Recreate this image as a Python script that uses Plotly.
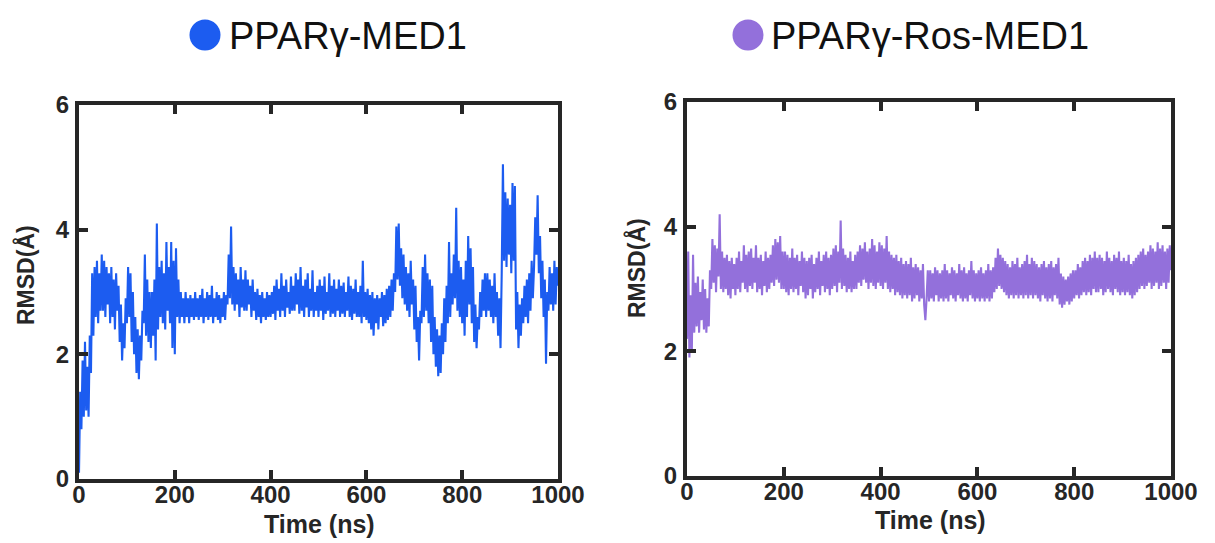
import plotly.graph_objects as go

# ---------------- data ----------------
step_ns = 2.5  # sampling interval of the RMSD traces (ns)

rmsd_ppar_med1 = [
    0.1, 1.4, 0.8, 1.9, 1.0, 2.2, 1.1, 1.8, 1.0, 2.3, 1.7, 3.3, 2.3, 3.4, 2.6, 3.5, 2.5, 3.3, 2.7, 3.6,
    2.7, 3.5, 2.6, 3.4, 2.8, 3.3, 2.5, 3.4, 2.6, 3.2, 2.4, 3.3, 2.7, 3.1, 2.2, 2.8, 1.9, 2.5, 2.1, 2.9,
    2.5, 3.4, 2.6, 3.3, 2.2, 3.0, 2.0, 2.6, 1.7, 2.4, 1.6, 2.3, 1.9, 2.7, 2.5, 3.6, 2.3, 3.2, 2.2, 3.0,
    2.1, 3.0, 2.3, 3.2, 1.9, 4.1, 2.4, 3.4, 2.6, 3.5, 2.5, 3.3, 2.4, 3.8, 2.7, 3.4, 2.5, 3.8, 2.1, 3.5,
    2.0, 3.7, 2.6, 3.2, 2.5, 3.0, 2.6, 2.9, 2.5, 3.0, 2.6, 2.9, 2.5, 2.95, 2.6, 2.9, 2.55, 3.0, 2.6, 2.9,
    2.55, 2.95, 2.6, 3.05, 2.5, 2.9, 2.6, 3.0, 2.55, 2.95, 2.6, 3.1, 2.5, 2.9, 2.6, 3.0, 2.55, 2.95, 2.5, 2.9,
    2.6, 3.0, 2.55, 2.95, 2.8, 3.6, 2.9, 4.05, 2.8, 3.4, 2.7, 3.3, 2.8, 3.2, 2.6, 3.4, 2.75, 3.2, 2.7, 3.35,
    2.7, 3.2, 2.8, 3.1, 2.6, 3.2, 2.7, 3.0, 2.55, 3.05, 2.6, 2.95, 2.5, 3.0, 2.6, 2.9, 2.55, 3.0, 2.6, 2.95,
    2.6, 3.0, 2.65, 3.1, 2.55, 3.2, 2.7, 3.05, 2.6, 3.3, 2.7, 3.1, 2.6, 3.2, 2.75, 3.0, 2.65, 3.25, 2.7, 3.1,
    2.7, 3.3, 2.8, 3.2, 2.65, 3.4, 2.7, 3.1, 2.6, 3.2, 2.75, 3.3, 2.6, 3.05, 2.7, 3.35, 2.6, 3.0, 2.7, 3.1,
    2.6, 3.2, 2.7, 3.1, 2.55, 3.25, 2.65, 3.0, 2.7, 3.3, 2.6, 3.1, 2.65, 3.2, 2.6, 3.05, 2.7, 3.2, 2.6, 3.1,
    2.65, 3.15, 2.6, 3.0, 2.7, 3.25, 2.6, 3.1, 2.55, 3.05, 2.65, 3.2, 2.6, 3.0, 2.6, 3.1, 2.5, 3.5, 2.6, 3.0,
    2.55, 3.05, 2.5, 2.95, 2.4, 3.0, 2.3, 2.9, 2.5, 2.95, 2.4, 2.9, 2.6, 3.0, 2.45, 2.95, 2.5, 3.05, 2.55, 3.1,
    2.6, 3.2, 2.7, 3.3, 3.0, 4.05, 3.2, 4.1, 3.1, 3.7, 2.9, 3.6, 2.8, 3.4, 2.7, 3.3, 2.6, 3.5, 2.8, 3.2,
    2.4, 3.1, 2.2, 2.6, 1.9, 2.7, 2.5, 3.4, 2.6, 3.6, 2.7, 3.3, 2.5, 3.2, 2.2, 3.1, 2.0, 2.6, 1.8, 2.4,
    1.65, 2.3, 1.7, 2.5, 2.0, 2.9, 2.2, 3.1, 2.5, 3.8, 2.6, 3.3, 2.8, 3.6, 2.9, 4.35, 2.7, 3.5, 2.6, 3.4,
    2.5, 3.2, 2.3, 3.5, 2.6, 3.9, 2.8, 3.7, 2.5, 3.4, 2.2, 2.8, 2.1, 2.6, 2.4, 3.0, 2.6, 3.2, 2.7, 3.3,
    2.6, 3.3, 2.7, 3.2, 2.6, 3.1, 2.5, 3.3, 2.6, 3.0, 2.3, 2.9, 2.1, 3.3, 5.05, 3.5, 4.6, 3.4, 4.5, 3.6,
    4.4, 3.3, 4.75, 3.5, 4.7, 2.4, 3.0, 2.1, 2.8, 2.3, 2.9, 2.5, 3.1, 2.6, 3.2, 2.5, 3.3, 2.7, 3.5, 2.9,
    3.4, 4.2, 3.6, 4.55, 3.3, 3.9, 2.9, 3.5, 2.6, 3.2, 1.85, 3.0, 2.7, 3.4, 2.8, 3.3, 2.7, 3.5, 2.8, 3.4,
    3.1,
]

rmsd_ppar_ros_med1 = [
    2.2, 3.6, 1.9, 2.9, 2.0, 3.55, 2.3, 3.1, 2.4, 3.2, 2.3, 2.95, 2.5, 3.15, 2.35, 3.0, 2.3, 2.85, 2.4, 3.3,
    3.0, 3.8, 3.1, 3.7, 2.95, 3.65, 3.2, 4.2, 3.0, 3.6, 2.95, 3.5, 3.0, 3.55, 2.9, 3.45, 2.85, 3.5, 3.0, 3.4,
    2.9, 3.5, 3.0, 3.6, 2.95, 3.45, 3.1, 3.7, 3.0, 3.55, 2.95, 3.6, 3.05, 3.65, 3.0, 3.5, 3.1, 3.7, 2.95, 3.5,
    3.0, 3.55, 2.9, 3.45, 3.05, 3.6, 2.95, 3.5, 3.0, 3.55, 3.1, 3.7, 3.05, 3.8, 3.15, 3.75, 3.1, 3.85, 3.0, 3.6,
    3.0, 3.6, 2.95, 3.55, 2.9, 3.5, 3.0, 3.65, 2.95, 3.5, 3.0, 3.55, 2.9, 3.45, 3.05, 3.6, 2.95, 3.5, 2.85, 3.45,
    2.9, 3.5, 3.0, 3.55, 2.85, 3.4, 2.95, 3.5, 3.0, 3.6, 2.9, 3.45, 3.05, 3.55, 2.95, 3.6, 3.0, 3.5, 2.9, 3.55,
    3.0, 3.65, 3.05, 3.7, 2.95, 3.6, 3.1, 4.1, 3.0, 3.65, 3.05, 3.55, 2.95, 3.5, 3.0, 3.6, 2.95, 3.45, 3.0, 3.55,
    3.0, 3.6, 3.1, 3.7, 3.05, 3.65, 3.15, 3.75, 3.1, 3.6, 3.0, 3.65, 3.1, 3.8, 3.05, 3.7, 3.0, 3.6, 3.1, 3.75,
    3.05, 3.7, 3.0, 3.65, 3.1, 3.85, 3.0, 3.6, 2.95, 3.55, 3.0, 3.5, 2.9, 3.55, 2.95, 3.45, 2.9, 3.5, 2.85, 3.4,
    2.9, 3.45, 2.85, 3.4, 2.9, 3.5, 2.8, 3.35, 2.85, 3.4, 2.9, 3.35, 2.8, 3.3, 2.85, 3.4, 2.75, 2.5, 2.85, 3.3,
    2.8, 3.3, 2.85, 3.25, 2.8, 3.35, 2.9, 3.3, 2.8, 3.25, 2.85, 3.3, 2.8, 3.4, 2.85, 3.3, 2.8, 3.25, 2.9, 3.35,
    2.85, 3.3, 2.8, 3.25, 2.9, 3.4, 2.85, 3.3, 2.8, 3.35, 2.85, 3.25, 2.8, 3.3, 2.9, 3.45, 2.85, 3.3, 2.8, 3.25,
    2.85, 3.3, 2.8, 3.35, 2.85, 3.25, 2.8, 3.3, 2.85, 3.4, 2.8, 3.3, 2.85, 3.35, 2.95, 3.5, 3.0, 3.65, 3.05, 3.55,
    3.0, 3.5, 2.95, 3.45, 2.9, 3.4, 2.85, 3.35, 2.9, 3.45, 2.85, 3.4, 2.9, 3.5, 2.85, 3.35, 2.9, 3.4, 2.85, 3.45,
    2.9, 3.55, 2.85, 3.4, 2.9, 3.5, 2.85, 3.45, 2.9, 3.4, 2.85, 3.35, 2.8, 3.4, 2.9, 3.45, 2.85, 3.35, 2.8, 3.4,
    2.85, 3.45, 2.8, 3.35, 2.9, 3.4, 2.85, 3.5, 2.75, 3.25, 2.7, 3.2, 2.75, 3.15, 2.8, 3.2, 2.75, 3.25, 2.8, 3.3,
    2.85, 3.3, 2.9, 3.4, 2.85, 3.35, 2.9, 3.45, 2.95, 3.5, 2.9, 3.45, 2.95, 3.55, 2.9, 3.5, 3.0, 3.6, 2.95, 3.5,
    2.95, 3.55, 3.0, 3.5, 2.9, 3.45, 2.95, 3.6, 3.0, 3.5, 2.95, 3.45, 2.9, 3.55, 3.0, 3.5, 2.95, 3.6, 2.9, 3.45,
    2.95, 3.5, 2.9, 3.45, 2.95, 3.55, 2.9, 3.4, 2.85, 3.45, 2.9, 3.5, 2.95, 3.55, 3.0, 3.6, 3.05, 3.65, 3.0, 3.55,
    3.05, 3.6, 3.1, 3.7, 3.0, 3.65, 3.05, 3.6, 3.1, 3.75, 3.0, 3.65, 3.05, 3.7, 3.1, 3.6, 3.0, 3.65, 3.1, 3.7,
    3.3,
]

panel_titles = ["PPARγ-MED1", "PPARγ-Ros-MED1"]
series_colors = ["#1c5cf0", "#9370db"]
x_ticks = [0, 200, 400, 600, 800, 1000]
y_ticks = [0, 2, 4, 6]
x_title = "Time (ns)"
y_title = "RMSD(Å)"

time_med1 = [i * step_ns for i in range(len(rmsd_ppar_med1))]
time_ros = [i * step_ns for i in range(len(rmsd_ppar_ros_med1))]

# ---------------- layout geometry (pixels of a 1215x543 page) ----------------
W, H = 1215, 543
FONT = "Liberation Sans, Arial, sans-serif"
AX_COLOR = "#262626"

def px_x(p):
    return p / W

def px_y(p):
    return 1 - p / H

boxes = [  # (left, right, top, bottom) in pixels
    (79, 558, 105, 479),
    (687, 1171, 102, 476),
]

fig = go.Figure()
fig.add_trace(go.Scatter(x=time_med1, y=rmsd_ppar_med1, mode="lines",
                         line=dict(color=series_colors[0], width=2.1, simplify=False),
                         xaxis="x", yaxis="y", showlegend=False))
fig.add_trace(go.Scatter(x=time_ros, y=rmsd_ppar_ros_med1, mode="lines",
                         line=dict(color=series_colors[1], width=2.1, simplify=False),
                         xaxis="x2", yaxis="y2", showlegend=False))

def axis_common(ticks):
    return dict(
        tickmode="array", tickvals=ticks, ticktext=[str(t) for t in ticks],
        ticks="inside", ticklen=9, tickwidth=4, tickcolor=AX_COLOR,
        showline=True, linewidth=4, linecolor=AX_COLOR, mirror="ticks",
        showgrid=False, zeroline=False, automargin=False,
        tickfont=dict(family=FONT, size=24, color=AX_COLOR, weight="bold"),
        fixedrange=True,
    )

layout = dict(
    width=W, height=H, autosize=False,
    margin=dict(l=0, r=0, t=0, b=0, pad=0, autoexpand=False),
    paper_bgcolor="white", plot_bgcolor="white",
    showlegend=False,
)
for i, (l, r, t, b) in enumerate(boxes):
    sx = "" if i == 0 else str(i + 1)
    xa = axis_common(x_ticks)
    xa.update(domain=[px_x(l), px_x(r)], range=[0, 1000], anchor="y" + sx, ticklabelstandoff=-9)
    ya = axis_common(y_ticks)
    ya.update(domain=[px_y(b), px_y(t)], range=[0, 6], anchor="x" + sx, ticklabelstandoff=1)
    layout["xaxis" + sx] = xa
    layout["yaxis" + sx] = ya
fig.update_layout(**layout)

# Panel header: coloured dot + label
header_dots = [(205, 35), (748, 35)]
header_text_x = [227, 769]
for i in range(2):
    cx, cy = header_dots[i]
    rad = 15.5
    fig.add_shape(type="circle", xref="paper", yref="paper",
                  x0=px_x(cx - rad), x1=px_x(cx + rad), y0=px_y(cy + rad), y1=px_y(cy - rad),
                  fillcolor=series_colors[i], line=dict(width=0))
    fig.add_annotation(text=panel_titles[i], xref="paper", yref="paper",
                       x=px_x(header_text_x[i]), y=px_y(cy + 1), xanchor="left", yanchor="middle",
                       showarrow=False, font=dict(family=FONT, size=38, color="#111111"))

# Axis titles
x_title_pos = [(319, 524), (930, 520)]
y_title_pos = [(25, 275), (636, 268)]
for i in range(2):
    xx, yy = x_title_pos[i]
    fig.add_annotation(text=x_title, xref="paper", yref="paper",
                       x=px_x(xx), y=px_y(yy), xanchor="center", yanchor="middle",
                       showarrow=False, font=dict(family=FONT, size=25, color=AX_COLOR, weight="bold"))
    xx, yy = y_title_pos[i]
    fig.add_annotation(text=y_title, xref="paper", yref="paper",
                       x=px_x(xx), y=px_y(yy), xanchor="center", yanchor="middle",
                       textangle=-90, showarrow=False,
                       font=dict(family=FONT, size=23, color=AX_COLOR, weight="bold"))

fig.write_html("out.html")
